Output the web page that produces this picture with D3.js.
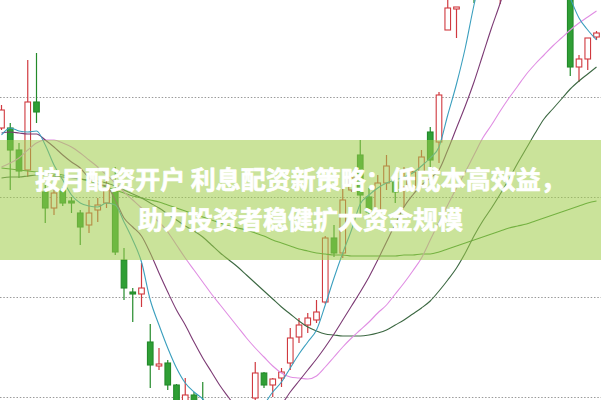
<!DOCTYPE html>
<html>
<head>
<meta charset="utf-8">
<script src="https://cdn.jsdelivr.net/npm/d3@7"></script>
<style>
html,body{margin:0;padding:0;background:#fff;}
svg{display:block;}
</style>
</head>
<body>
<div id="chart"></div>
<script>
// ---------- data ----------
const days = d3.range(69).map(i => "D" + (i + 1));
const gridValues = [9, 10, 11, 12];

const open = [11.69,11.69,11.47,11.27,11.95,11.05,10.89,11.07,10.96,10.84,10.72,10.87,10.94,11.07,10.37,10.05,10.03,9.55,9.31,9.34,9.12,8.85,9.02,8.92,8.77,8.65,8.57,8.67,8.57,8.99,9.24,9.12,9.19,9.34,9.60,9.72,9.77,9.95,10.59,10.44,11.07,11.42,11.00,10.87,11.14,11.15,11.10,11.09,11.25,11.65,11.55,12.67,12.88,13.07,13.57,13.27,13.57,13.67,13.97,14.27,13.97,13.77,13.57,13.27,13.12,13.22,12.30,12.38,12.60];
const high = [11.92,11.74,11.54,12.37,12.44,11.12,11.10,11.10,11.00,10.87,10.97,10.99,11.17,11.30,10.49,10.09,10.34,9.73,9.49,9.37,9.13,9.19,9.05,9.15,8.87,8.72,8.77,8.79,8.87,9.35,9.25,9.19,9.29,9.69,9.79,9.84,9.97,10.61,10.72,11.12,11.25,11.57,11.09,11.22,11.42,11.24,11.30,11.27,11.47,11.70,12.05,13.02,12.90,13.47,13.67,13.72,13.97,14.22,14.37,14.37,14.12,13.87,13.72,13.42,13.37,13.27,12.42,12.59,12.66];
const low = [11.67,11.07,11.19,11.20,11.74,10.74,10.82,10.91,10.84,10.52,10.64,10.75,10.89,10.42,9.97,9.75,9.90,9.09,9.27,9.07,8.79,8.77,8.72,8.67,8.57,8.42,8.47,8.49,8.52,8.92,9.09,9.00,9.10,9.27,9.54,9.64,9.74,9.93,10.40,10.39,11.05,10.80,10.80,10.82,11.07,10.94,10.90,11.07,11.20,11.27,11.34,12.67,12.59,13.02,12.94,13.22,13.52,12.93,13.87,13.92,13.67,13.47,13.17,13.02,13.02,12.21,12.15,12.27,12.57];
const close = [11.87,11.47,11.26,11.95,11.85,10.89,11.04,10.94,10.94,10.70,10.84,10.92,11.07,10.45,10.09,10.03,10.09,9.32,9.33,9.12,8.87,9.02,8.85,8.77,8.62,8.52,8.67,8.59,8.72,9.24,9.12,9.18,9.25,9.59,9.72,9.79,9.85,10.59,10.44,10.97,11.19,11.02,10.85,11.14,11.31,11.05,11.20,11.25,11.40,11.37,12.02,12.89,12.90,13.37,13.17,13.57,13.87,13.97,14.27,13.97,13.77,13.57,13.27,13.12,13.22,12.30,12.38,12.59,12.64];

const ma5 = [11.62,11.69,11.66,11.65,11.66,11.52,11.32,11.17,11.02,10.94,10.91,10.90,10.94,10.92,10.75,10.57,10.35,9.97,9.72,9.49,9.29,9.14,9.05,8.98,8.87,8.77,8.69,8.65,8.69,8.79,8.92,9.05,9.15,9.29,9.43,9.55,9.67,9.92,10.19,10.44,10.67,10.93,11.02,11.09,11.14,11.17,11.20,11.24,11.31,11.39,11.50,11.82,12.13,12.49,12.92,13.27,13.57,13.77,13.92,13.97,13.95,13.87,13.72,13.49,13.22,12.99,12.79,12.67,12.57];
const ma10 = [11.64,11.65,11.64,11.63,11.63,11.57,11.50,11.42,11.35,11.29,11.19,11.13,11.11,10.97,10.79,10.70,10.61,10.44,10.24,10.05,9.87,9.72,9.55,9.39,9.25,9.11,8.99,8.87,8.79,8.75,8.74,8.79,8.92,9.05,9.16,9.27,9.38,9.50,9.63,9.77,9.91,10.05,10.20,10.37,10.55,10.73,10.90,11.02,11.12,11.19,11.27,11.47,11.69,11.91,12.15,12.42,12.69,12.94,13.22,13.49,13.65,13.72,13.73,13.67,13.57,13.42,13.29,13.17,13.05];
const ma20 = [11.30,11.34,11.39,11.47,11.54,11.57,11.57,11.54,11.50,11.44,11.37,11.30,11.22,11.14,11.05,10.97,10.89,10.82,10.75,10.65,10.52,10.39,10.27,10.15,10.03,9.92,9.81,9.70,9.59,9.49,9.40,9.31,9.24,9.20,9.19,9.18,9.21,9.30,9.40,9.50,9.59,9.67,9.75,9.84,9.92,10.03,10.14,10.26,10.39,10.57,10.75,10.92,11.09,11.25,11.42,11.59,11.72,11.86,11.99,12.11,12.23,12.33,12.42,12.51,12.59,12.67,12.74,12.80,12.86];
const ma30 = [11.19,11.20,11.20,11.21,11.22,11.22,11.21,11.20,11.19,11.18,11.17,11.16,11.14,11.11,11.07,11.03,10.99,10.94,10.89,10.83,10.77,10.71,10.66,10.60,10.52,10.44,10.37,10.30,10.22,10.14,10.06,9.98,9.90,9.83,9.76,9.70,9.66,9.63,9.62,9.61,9.61,9.61,9.62,9.64,9.67,9.72,9.77,9.83,9.89,9.96,10.06,10.17,10.29,10.44,10.61,10.76,10.89,11.03,11.18,11.34,11.49,11.64,11.78,11.88,11.98,12.08,12.16,12.23,12.30];
const ma60 = [11.29,11.28,11.27,11.26,11.25,11.24,11.23,11.22,11.20,11.18,11.16,11.13,11.10,11.07,11.04,11.01,10.99,10.97,10.95,10.92,10.89,10.86,10.83,10.80,10.77,10.74,10.71,10.69,10.67,10.64,10.61,10.57,10.54,10.51,10.48,10.46,10.44,10.43,10.42,10.42,10.41,10.41,10.41,10.41,10.41,10.41,10.42,10.42,10.43,10.43,10.45,10.48,10.51,10.54,10.57,10.60,10.63,10.66,10.69,10.71,10.73,10.76,10.79,10.82,10.85,10.88,10.91,10.94,10.96];

const bannerLines = ["按月配资开户 利息配资新策略：低成本高效益，", "助力投资者稳健扩大资金规模"];

// ---------- drawing ----------
const W = 601, H = 400;
const svg = d3.select("#chart").append("svg").attr("width", W).attr("height", H);
svg.append("rect").attr("width", W).attr("height", H).attr("fill", "#fff");

const x = d3.scaleBand().domain(days).range([-2.875, 600.875]).paddingInner(0);
const y = d3.scaleLinear().domain([9, 12]).range([397, 97]);
const cx = d => x(d) + x.bandwidth() / 2;

// grid
const yAxis = d3.axisLeft(y).tickValues(gridValues).tickSize(-W).tickFormat("");
const gAxis = svg.append("g").call(yAxis);
gAxis.select(".domain").remove();
gAxis.selectAll(".tick line")
  .attr("stroke", "#9a9a9a").attr("stroke-width", 1).attr("stroke-dasharray", "1.5,1.8");

// candles
const rows = days.map((d, i) => ({d, o: open[i], h: high[i], l: low[i], c: close[i]}));
const bw = x.bandwidth() * 0.64;
const RED = "#d0393f", GREEN_F = "#2f9f35", GREEN_S = "#238a2a";
const cg = svg.append("g");
const candle = cg.selectAll("g").data(rows).join("g");
candle.append("line")
  .attr("x1", r => cx(r.d)).attr("x2", r => cx(r.d))
  .attr("y1", r => y(r.h)).attr("y2", r => y(r.l))
  .attr("stroke", r => r.c >= r.o ? RED : GREEN_S).attr("stroke-width", 1.2);
candle.append("rect")
  .attr("x", r => cx(r.d) - bw / 2)
  .attr("width", bw)
  .attr("y", r => y(Math.max(r.o, r.c)))
  .attr("height", r => Math.max(1.2, Math.abs(y(r.o) - y(r.c))))
  .attr("fill", r => r.c >= r.o ? "#fff" : GREEN_F)
  .attr("stroke", r => r.c >= r.o ? RED : GREEN_S)
  .attr("stroke-width", 1.1);

// moving average lines
const series = [
  {v: ma60, color: "#3d8f35"},
  {v: ma30, color: "#3c6842"},
  {v: ma20, color: "#e08ee3"},
  {v: ma10, color: "#7c3a74"},
  {v: ma5,  color: "#3b9fbe"}
];
const line = d3.line().x((v, i) => cx(days[i])).y(v => y(v)).curve(d3.curveMonotoneX);
svg.append("g").selectAll("path").data(series).join("path")
  .attr("d", s => line(s.v))
  .attr("fill", "none").attr("stroke", s => s.color).attr("stroke-width", 1.1);

// banner overlay
svg.append("rect").attr("x", 0).attr("y", 140).attr("width", W).attr("height", 120)
  .attr("fill", "rgb(160,205,75)").attr("fill-opacity", 0.56);

svg.append("g").selectAll("text").data(bannerLines).join("text")
  .attr("x", 300.5).attr("y", (t, i) => 189 + i * 40)
  .attr("text-anchor", "middle")
  .attr("font-family", "'Noto Sans CJK SC', 'Noto Sans', sans-serif")
  .attr("font-weight", 700).attr("font-size", 25)
  .attr("fill", "#ffffff")
  .attr("stroke", "#ffffff").attr("stroke-width", 0.7).attr("stroke-linejoin", "round")
  .text(t => t);
</script>
</body>
</html>
